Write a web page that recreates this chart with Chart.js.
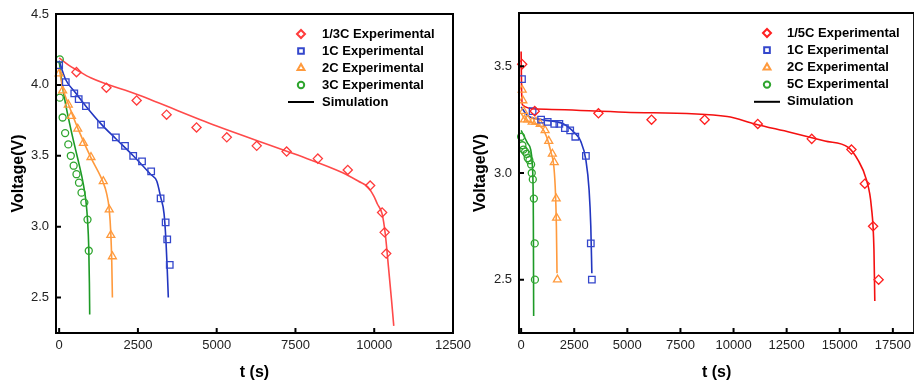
<!DOCTYPE html>
<html>
<head>
<meta charset="utf-8">
<script src="https://cdn.jsdelivr.net/npm/chart.js@4.4.1/dist/chart.umd.min.js"></script>
<style>
  html, body { margin: 0; padding: 0; background: #fff; overflow: hidden; }
  body { width: 914px; height: 389px; position: relative; }
  canvas { position: absolute; top: 0; }
  #leftChart { left: 0; }
  #rightChart { left: 460px; }
</style>
</head>
<body>
<canvas id="leftChart" width="480" height="389"></canvas>
<canvas id="rightChart" width="460" height="389"></canvas>
<script>
// ---- left panel: 1/3C, 1C, 2C, 3C ----
const leftTicksX = [0, 2500, 5000, 7500, 10000, 12500];
const leftTicksY = [2.5, 3.0, 3.5, 4.0, 4.5];

const expA13C_t = [550, 1500, 2460, 3410, 4360, 5320, 6270, 7220, 8210, 9160, 9870, 10250, 10330, 10380];
const expA13C_v = [4.09, 3.98, 3.89, 3.79, 3.70, 3.63, 3.57, 3.53, 3.48, 3.40, 3.29, 3.10, 2.96, 2.81];
const expA1C_t = [0, 210, 480, 620, 850, 1330, 1800, 2090, 2350, 2630, 2920, 3220, 3380, 3430, 3510];
const expA1C_v = [4.14, 4.02, 3.94, 3.90, 3.85, 3.72, 3.63, 3.57, 3.50, 3.46, 3.39, 3.20, 3.03, 2.91, 2.73];
const expA2C_t = [0, 110, 290, 390, 590, 770, 1010, 1400, 1590, 1640, 1690];
const expA2C_v = [4.08, 3.96, 3.86, 3.78, 3.69, 3.59, 3.49, 3.32, 3.12, 2.94, 2.79];
const expA3C_t = [20, 20, 110, 190, 290, 370, 460, 550, 630, 710, 800, 900, 940];
const expA3C_v = [4.18, 3.91, 3.77, 3.66, 3.58, 3.50, 3.43, 3.37, 3.31, 3.24, 3.17, 3.05, 2.83];

const simA13C_t = [0, 300, 600, 1000, 2500, 5000, 7500, 9000, 9500, 9800, 10000, 10100, 10250, 10350, 10450, 10550, 10620];
const simA13C_v = [4.19, 4.14, 4.10, 4.05, 3.93, 3.71, 3.51, 3.38, 3.32, 3.28, 3.21, 3.16, 3.09, 2.95, 2.72, 2.48, 2.30];
const simA1C_t = [0, 200, 500, 850, 1350, 1800, 2350, 2900, 3100, 3220, 3330, 3390, 3430, 3465];
const simA1C_v = [4.17, 4.04, 3.95, 3.85, 3.72, 3.62, 3.50, 3.37, 3.32, 3.21, 3.09, 2.90, 2.70, 2.50];
const simA2C_t = [0, 100, 300, 600, 1000, 1400, 1500, 1590, 1640, 1670, 1690];
const simA2C_v = [4.12, 3.99, 3.86, 3.69, 3.49, 3.31, 3.24, 3.12, 2.95, 2.75, 2.50];
const simA3C_t = [0, 100, 200, 300, 450, 600, 750, 850, 900, 940, 960, 970];
const simA3C_v = [4.17, 4.00, 3.87, 3.76, 3.61, 3.47, 3.32, 3.18, 3.05, 2.85, 2.60, 2.38];

// ---- right panel: 1/5C, 1C, 2C, 5C ----
const rightTicksX = [0, 2500, 5000, 7500, 10000, 12500, 15000, 17500];
const rightTicksY = [2.5, 3.0, 3.5];

const expB15C_t = [50, 640, 3640, 6140, 8640, 11140, 13680, 15550, 16180, 16570, 16830];
const expB15C_v = [3.51, 3.29, 3.28, 3.25, 3.25, 3.23, 3.16, 3.11, 2.95, 2.75, 2.50];
const expB1C_t = [40, 540, 940, 1250, 1560, 1800, 2060, 2310, 2550, 3050, 3280, 3330];
const expB1C_v = [3.44, 3.29, 3.25, 3.24, 3.23, 3.23, 3.21, 3.20, 3.17, 3.08, 2.67, 2.50];
const expB2C_t = [50, 80, 110, 160, 310, 520, 700, 900, 1130, 1300, 1470, 1560, 1650, 1670, 1710];
const expB2C_v = [3.39, 3.34, 3.29, 3.25, 3.25, 3.24, 3.24, 3.23, 3.20, 3.15, 3.09, 3.05, 2.88, 2.79, 2.50];
const expB5C_t = [0, 60, 110, 190, 260, 310, 390, 470, 500, 550, 600, 640, 650];
const expB5C_v = [3.17, 3.13, 3.11, 3.10, 3.09, 3.07, 3.06, 3.04, 3.00, 2.97, 2.88, 2.67, 2.50];

const simB15C_t = [0, 20, 60, 700, 4900, 9700, 11000, 12700, 14300, 15400, 15860, 16250, 16490, 16610, 16650];
const simB15C_v = [3.57, 3.40, 3.32, 3.30, 3.285, 3.265, 3.23, 3.19, 3.15, 3.12, 3.06, 2.97, 2.84, 2.64, 2.40];
const simB1C_t = [0, 300, 1000, 2000, 2500, 2800, 3050, 3200, 3280, 3330];
const simB1C_v = [3.31, 3.27, 3.25, 3.23, 3.19, 3.15, 3.06, 2.92, 2.75, 2.53];
const simB2C_t = [0, 200, 700, 1000, 1200, 1400, 1550, 1620, 1660, 1690];
const simB2C_v = [3.28, 3.25, 3.23, 3.21, 3.17, 3.10, 3.02, 2.90, 2.75, 2.53];
const simB5C_t = [0, 150, 300, 450, 520, 560, 575, 585, 590];
const simB5C_v = [3.20, 3.17, 3.14, 3.11, 3.05, 2.95, 2.80, 2.50, 2.33];

Chart.defaults.font.family = '"Liberation Sans", Arial, sans-serif';

const RED = '#ff3b3b', BLUE = '#2236c0', ORANGE = '#ff9a3d', GREEN = '#1d9a26';

function pts(t, v) {
  return t.map((x, i) => ({ x: x, y: v[i] }));
}

function expSet(label, t, v, color, style, r) {
  return {
    label: label, data: pts(t, v), showLine: false, isExp: true,
    pointStyle: style, pointRadius: r, pointHoverRadius: r,
    pointBorderColor: color, pointBackgroundColor: 'rgba(0,0,0,0)',
    pointBorderWidth: 1.3, clip: false
  };
}

function simSet(t, v, color) {
  return {
    label: 'Simulation', data: pts(t, v), showLine: true,
    borderColor: color, borderWidth: 1.6, pointRadius: 0,
    cubicInterpolationMode: 'monotone', clip: false
  };
}

// frame, inward ticks and the legend inside the plot
const framePlugin = {
  id: 'framePlugin',
  afterDraw(chart, args, opts) {
    const ctx = chart.ctx;
    const a = chart.chartArea;
    ctx.save();
    ctx.strokeStyle = '#000';
    ctx.lineWidth = 2;
    ctx.strokeRect(a.left, a.top, a.right - a.left, a.bottom - a.top);
    ctx.beginPath();
    chart.scales.x.ticks.forEach(t => {
      const px = chart.scales.x.getPixelForValue(t.value);
      ctx.moveTo(px, a.bottom);
      ctx.lineTo(px, a.bottom - 5);
    });
    chart.scales.y.ticks.forEach(t => {
      const py = chart.scales.y.getPixelForValue(t.value);
      ctx.moveTo(a.left, py);
      ctx.lineTo(a.left + 5, py);
    });
    ctx.stroke();

    // legend
    const items = chart.data.datasets.filter(d => d.isExp);
    ctx.font = 'bold 13px "Liberation Sans", Arial, sans-serif';
    ctx.textBaseline = 'middle';
    ctx.textAlign = 'left';
    items.forEach((d, i) => {
      const y = opts.y + i * opts.dy;
      ctx.strokeStyle = d.pointBorderColor;
      ctx.fillStyle = 'rgba(0,0,0,0)';
      Chart.helpers.drawPoint(ctx, { pointStyle: d.pointStyle, radius: d.pointStyle === 'circle' ? 3.2 : 4, borderWidth: 1.3, rotation: 0 }, opts.x, y);
      ctx.fillStyle = '#000';
      ctx.fillText(d.label, opts.textX, y);
    });
    const ly = opts.y + items.length * opts.dy;
    ctx.strokeStyle = '#000';
    ctx.lineWidth = 2;
    ctx.beginPath();
    ctx.moveTo(opts.x - 13, ly);
    ctx.lineTo(opts.x + 13, ly);
    ctx.stroke();
    ctx.fillStyle = '#000';
    ctx.fillText('Simulation', opts.textX, ly);
    ctx.restore();
  }
};

function makeScales(xMax, yMin, yMax, xTicks, yTicks, yAxisW, yTitlePad) {
  return {
    x: {
      type: 'linear', min: -100, max: xMax,
      afterBuildTicks: s => { s.ticks = xTicks.map(value => ({ value })); },
      afterFit: s => { s.height = 56; s.paddingLeft = 0; s.paddingRight = 0; },
      grid: { display: false, drawTicks: false },
      border: { display: false },
      ticks: { padding: 5, color: '#222', font: { size: 13 }, maxRotation: 0, autoSkip: false, callback: v => String(v) },
      title: { display: true, text: 't (s)', color: '#000', font: { size: 16, weight: 'bold' }, padding: { top: 0, bottom: 7 } }
    },
    y: {
      type: 'linear', min: yMin, max: yMax,
      afterBuildTicks: s => { s.ticks = yTicks.map(value => ({ value })); },
      afterFit: s => { s.width = yAxisW; s.paddingTop = 0; s.paddingBottom = 0; },
      grid: { display: false, drawTicks: false },
      border: { display: false },
      ticks: { padding: 7, color: '#222', font: { size: 13 }, callback: v => v.toFixed(1) },
      title: { display: true, text: 'Voltage(V)', color: '#000', font: { size: 16, weight: 'bold' }, padding: { top: yTitlePad, bottom: 0 } }
    }
  };
}

function makeChart(id, datasets, scales, padding, legendPos) {
  return new Chart(document.getElementById(id).getContext('2d'), {
    type: 'scatter',
    data: { datasets: datasets },
    options: {
      responsive: false,
      animation: false,
      events: [],
      layout: { padding: padding },
      scales: scales,
      plugins: {
        legend: { display: false },
        tooltip: { enabled: false },
        framePlugin: legendPos
      }
    },
    plugins: [framePlugin]
  });
}

makeChart('leftChart', [
  expSet('1/3C Experimental', expA13C_t, expA13C_v, RED, 'rectRot', 4.6),
  expSet('1C Experimental', expA1C_t, expA1C_v, '#3447cc', 'rect', 4.6),
  expSet('2C Experimental', expA2C_t, expA2C_v, ORANGE, 'triangle', 4.6),
  expSet('3C Experimental', expA3C_t, expA3C_v, '#2ea52e', 'circle', 3.5),
  simSet(simA13C_t, simA13C_v, '#ff4a4a'),
  simSet(simA1C_t, simA1C_v, BLUE),
  simSet(simA2C_t, simA2C_v, ORANGE),
  simSet(simA3C_t, simA3C_v, GREEN)
], makeScales(12500, 2.25, 4.5, leftTicksX, leftTicksY, 56, 9),
  { left: 0, right: 27, top: 14, bottom: 0 },
  { x: 301, textX: 322, y: 34, dy: 17 });

makeChart('rightChart', [
  expSet('1/5C Experimental', expB15C_t, expB15C_v, '#ff2020', 'rectRot', 4.6),
  expSet('1C Experimental', expB1C_t, expB1C_v, '#3447cc', 'rect', 4.6),
  expSet('2C Experimental', expB2C_t, expB2C_v, ORANGE, 'triangle', 4.6),
  expSet('5C Experimental', expB5C_t, expB5C_v, '#2ea52e', 'circle', 3.5),
  simSet(simB15C_t, simB15C_v, '#f41010'),
  simSet(simB1C_t, simB1C_v, BLUE),
  simSet(simB2C_t, simB2C_v, ORANGE),
  simSet(simB5C_t, simB5C_v, GREEN)
], makeScales(18500, 2.25, 3.75, rightTicksX, rightTicksY, 59, 11),
  { left: 0, right: 4, top: 13, bottom: 0 },
  { x: 307, textX: 327, y: 33, dy: 17.2 });
</script>
</body>
</html>
